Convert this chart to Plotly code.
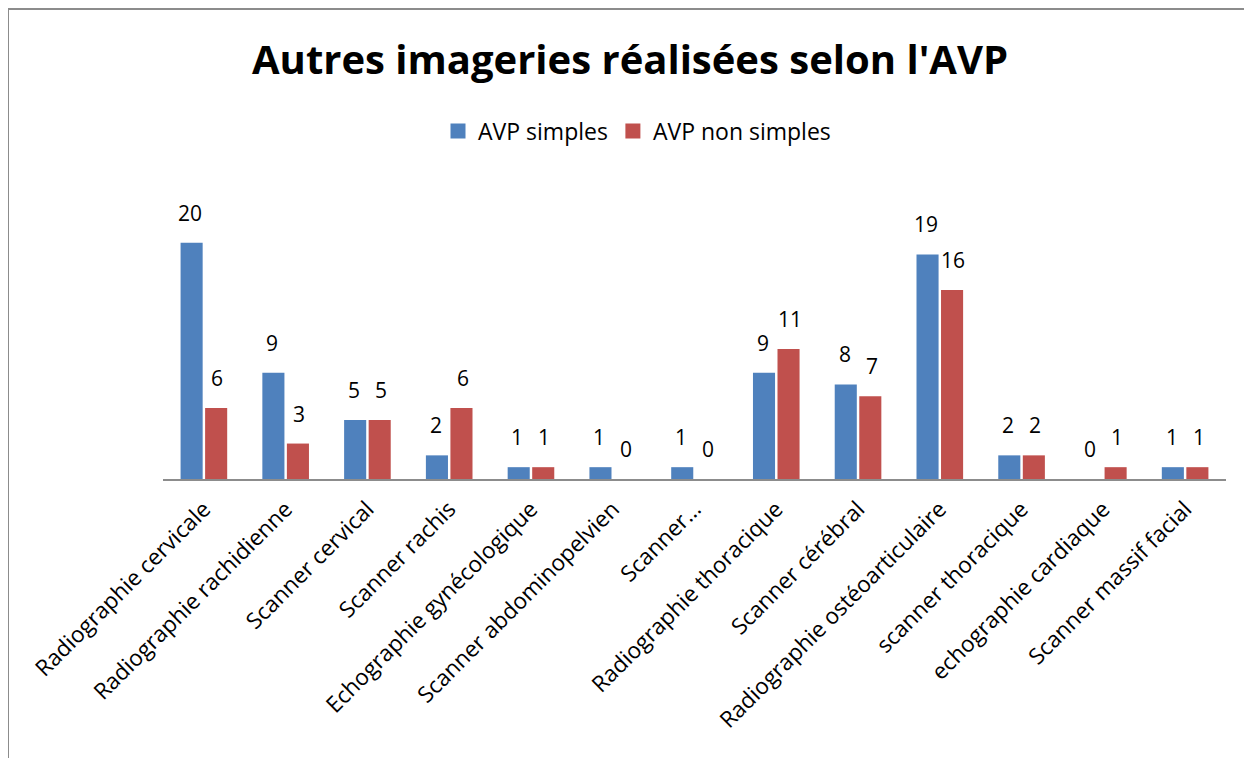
import plotly.graph_objects as go

categories = ["Radiographie cervicale", "Radiographie rachidienne", "Scanner cervical",
              "Scanner rachis", "Echographie gynécologique", "Scanner abdominopelvien",
              "Scanner…", "Radiographie thoracique", "Scanner cérébral",
              "Radiographie ostéoarticulaire", "scanner thoracique", "echographie cardiaque",
              "Scanner massif facial"]
avp_simples = [20, 9, 5, 2, 1, 1, 1, 9, 8, 19, 2, 0, 1]
avp_non_simples = [6, 3, 5, 6, 1, 0, 0, 11, 7, 16, 2, 1, 1]
series_names = ["AVP simples", "AVP non simples"]
colors = ["#4F81BD", "#C0504D"]

# page has an 8px body margin; figure coords = page coords - 8
OFF = 8
W, H = 1244, 750
L, R, T, B = 163 - OFF, 26, 219 - OFF, 279
FONT = "Open Sans"

fig = go.Figure()
annotations = []
bar_shift = [-13.5, 13.5]
for i, (name, vals, col) in enumerate(zip(series_names, [avp_simples, avp_non_simples], colors)):
    fig.add_trace(go.Bar(
        x=categories, y=vals, name=name, showlegend=False,
        marker=dict(color=col, line=dict(width=0)),
    ))
    fig.add_trace(go.Scatter(
        x=[None], y=[None], mode="markers", name=name,
        marker=dict(symbol="square", size=15, color=col),
    ))
    for c, v in zip(categories, vals):
        annotations.append(dict(
            x=c, y=v, xref="x", yref="y", text=str(v), showarrow=False,
            xanchor="center", yanchor="bottom", xshift=bar_shift[i], yshift=14,
            font=dict(family=FONT, size=21, color="#000"),
        ))

pw = W - L - R
ph = H - T - B
def px_x(p):
    return (p - OFF - L) / pw
def px_y(p):
    return (H - B - (p - OFF)) / ph

fig.update_layout(
    width=W, height=H,
    margin=dict(l=L, r=R, t=T, b=B, autoexpand=False),
    paper_bgcolor="white", plot_bgcolor="white",
    barmode="group", bargap=0.4, bargroupgap=0.1,
    title=dict(text="<b>Autres imageries réalisées selon l'AVP</b>",
               font=dict(family=FONT, size=40, color="#000"),
               x=(630 - OFF) / W, xref="container", xanchor="center",
               y=1 - (60 - OFF) / H, yref="container", yanchor="middle"),
    legend=dict(orientation="h", xref="container", yref="container",
                x=(637 - OFF) / W, xanchor="center", y=1 - (131 - OFF) / H, yanchor="middle",
                font=dict(family=FONT, size=23, color="#000"),
                itemwidth=30, traceorder="normal"),
    xaxis=dict(type="category", tickangle=-45, showline=True, linecolor="#8c8c8c",
               linewidth=2, ticks="", showgrid=False, ticklabelstandoff=6,
               tickfont=dict(family=FONT, size=22.5, color="#000")),
    yaxis=dict(range=[0, 22], visible=False, showgrid=False, zeroline=False),
    annotations=annotations,
    shapes=[
        dict(type="line", xref="paper", yref="paper", x0=px_x(8), x1=px_x(8),
             y0=px_y(9), y1=px_y(H + 40), line=dict(color="#8c8c8c", width=2)),
        dict(type="line", xref="paper", yref="paper", x0=px_x(8), x1=px_x(W + 40),
             y0=px_y(9), y1=px_y(9), line=dict(color="#8c8c8c", width=2)),
    ],
)

fig.write_html("out.html")
